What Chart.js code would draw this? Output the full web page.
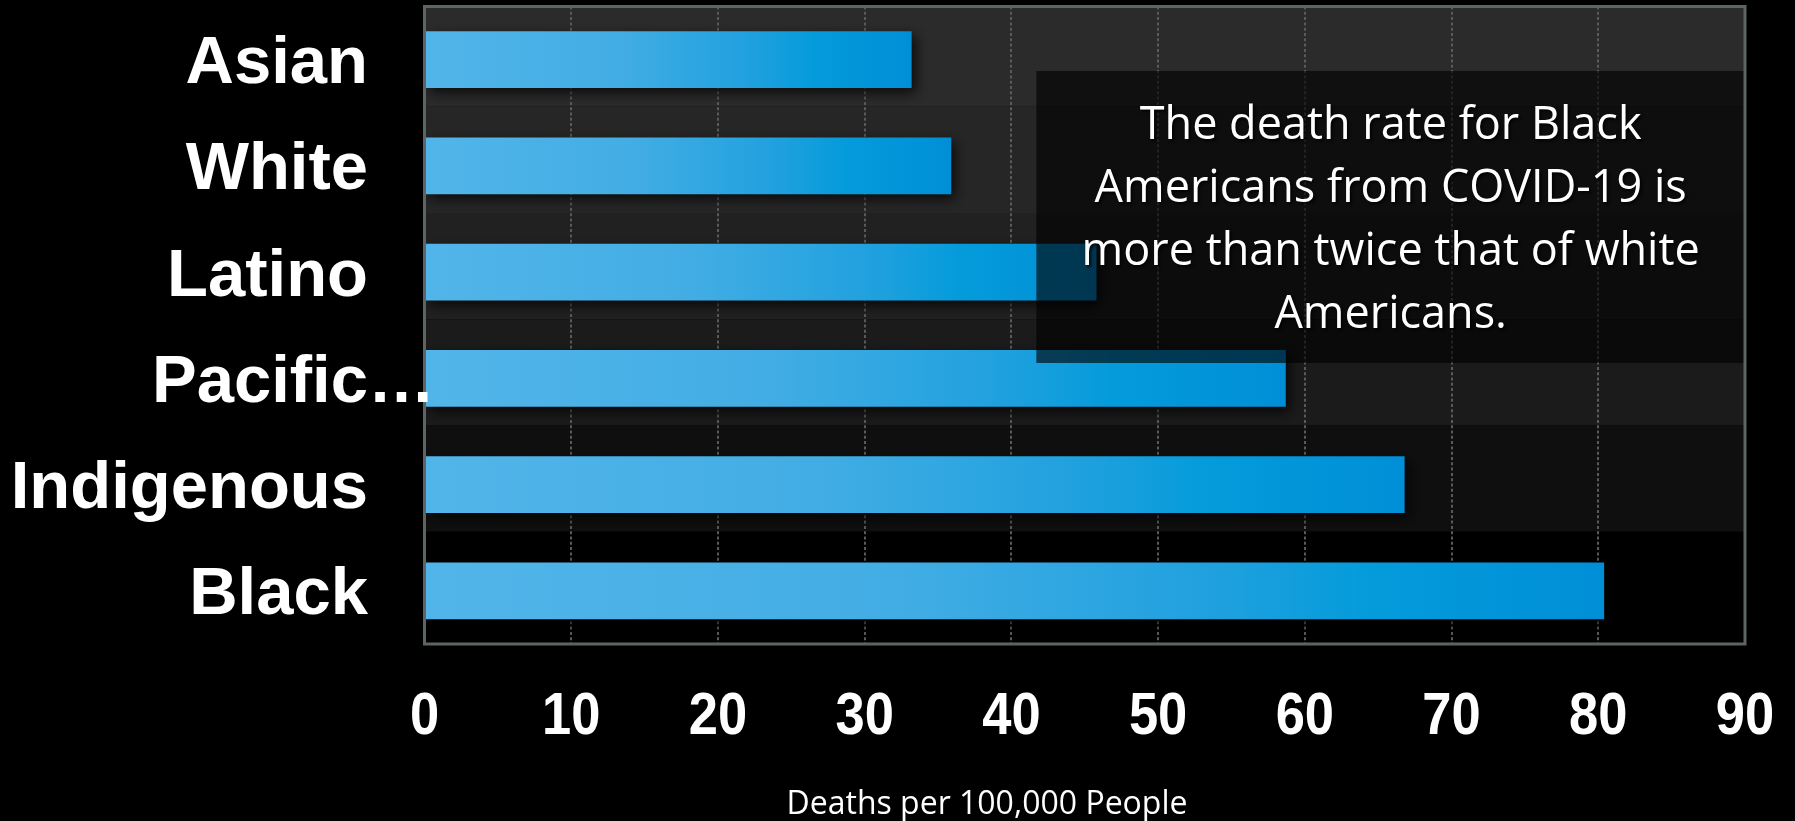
<!DOCTYPE html>
<html>
<head>
<meta charset="utf-8">
<script src="https://cdn.jsdelivr.net/npm/chart.js@4/dist/chart.umd.min.js"></script>
<style>
  html, body { margin: 0; padding: 0; background: #000; }
  #wrap { width: 1795px; height: 821px; }
</style>
</head>
<body>
<div id="wrap"><canvas id="c" width="1795" height="821"></canvas></div>
<script>
// ---- data ----
const categories = ["Asian", "White", "Latino", "Pacific…", "Indigenous", "Black"];
const deathRates = [33.2, 35.9, 45.8, 58.7, 66.8, 80.4];
const xTicks = [0, 10, 20, 30, 40, 50, 60, 70, 80, 90];
const xAxisTitle = "Deaths per 100,000 People";
const noteLines = ["The death rate for Black", "Americans from COVID-19 is", "more than twice that of white", "Americans."];

const bandColors = ['#2b2b2b', '#262626', '#212121', '#1b1b1b', '#0f0f0f', '#000000'];

function barGradient(ctx) {
  const chart = ctx.chart;
  if (!chart.chartArea || ctx.dataIndex === undefined) return '#0090d8';
  const xs = chart.scales.x;
  const x0 = xs.getPixelForValue(0);
  const x1 = xs.getPixelForValue(deathRates[ctx.dataIndex]);
  const g = chart.ctx.createLinearGradient(x0, 0, x1, 0);
  g.addColorStop(0, '#52b5e9');
  g.addColorStop(0.4, '#42ade4');
  g.addColorStop(0.68, '#1ea0de');
  g.addColorStop(0.8, '#049bdb');
  g.addColorStop(1, '#008fd6');
  return g;
}

const decor = {
  id: 'decor',
  beforeDraw(chart) {
    const { ctx, chartArea: a } = chart;
    const ys = chart.scales.y;
    ctx.save();
    ctx.fillStyle = '#000';
    ctx.fillRect(0, 0, chart.width, chart.height);
    const n = categories.length;
    for (let i = 0; i < n; i++) {
      const c = ys.getPixelForValue(i);
      const prev = i === 0 ? a.top : (ys.getPixelForValue(i - 1) + c) / 2 - 6;
      const next = i === n - 1 ? a.bottom : (ys.getPixelForValue(i + 1) + c) / 2 - 6;
      ctx.fillStyle = bandColors[i];
      ctx.fillRect(a.left, prev, a.right - a.left, next - prev);
    }
    ctx.restore();
  },
  beforeDatasetsDraw(chart) {
    const ctx = chart.ctx;
    ctx.save();
    ctx.shadowColor = 'rgba(0,0,0,0.75)';
    ctx.shadowBlur = 12;
    ctx.shadowOffsetX = 4;
    ctx.shadowOffsetY = 5;
  },
  afterDatasetsDraw(chart) {
    const { ctx, chartArea: a } = chart;
    const xs = chart.scales.x;
    ctx.restore();
    // annotation box
    ctx.save();
    const bx0 = xs.getPixelForValue(41.7), bx1 = a.right;
    const by0 = 71, by1 = 363;
    ctx.fillStyle = 'rgba(0,0,0,0.62)';
    ctx.fillRect(bx0, by0, bx1 - bx0, by1 - by0);
    ctx.font = '45px "Open Sans"';
    ctx.fillStyle = '#ffffff';
    ctx.textAlign = 'center';
    ctx.textBaseline = 'alphabetic';
    ctx.shadowColor = 'rgba(0,0,0,0.8)';
    ctx.shadowBlur = 3;
    ctx.shadowOffsetX = 2;
    ctx.shadowOffsetY = 2;
    const cx = (bx0 + bx1) / 2;
    noteLines.forEach((t, i) => ctx.fillText(t, cx, 139 + 63 * i));
    ctx.restore();
    // frame
    ctx.save();
    ctx.strokeStyle = '#5d6464';
    ctx.lineWidth = 3;
    ctx.strokeRect(a.left, a.top, a.right - a.left, a.bottom - a.top);
    ctx.restore();
  },
  afterDraw(chart) {
    const { ctx } = chart;
    const ys = chart.scales.y;
    const xs = chart.scales.x;
    ctx.save();
    ctx.fillStyle = '#ffffff';
    ctx.font = 'bold 67px "Liberation Sans", Arial, sans-serif';
    ctx.textBaseline = 'alphabetic';
    const rx = 368;
    categories.forEach((lab, i) => {
      const y = ys.getPixelForValue(i) + 23.5;
      if (lab.endsWith('…')) {
        const main = lab.slice(0, -1);
        ctx.textAlign = 'right';
        ctx.fillText(main, rx, y);
        ctx.textAlign = 'left';
        ctx.fillText('…', rx, y);
      } else {
        ctx.textAlign = 'right';
        ctx.fillText(lab, rx, y);
      }
    });
    // x tick labels (condensed bold)
    ctx.font = 'bold 59px "Liberation Sans", Arial, sans-serif';
    ctx.textAlign = 'center';
    xTicks.forEach(v => {
      const px = xs.getPixelForValue(v);
      ctx.save();
      ctx.translate(px, 733.5);
      ctx.scale(0.89, 1);
      ctx.fillText(String(v), 0, 0);
      ctx.restore();
    });
    // x axis title
    ctx.font = '32px "Open Sans"';
    ctx.textAlign = 'center';
    ctx.fillText(xAxisTitle, 987, 814);
    ctx.restore();
  }
};

new Chart(document.getElementById('c'), {
  type: 'bar',
  data: {
    labels: categories,
    datasets: [{
      data: deathRates,
      backgroundColor: barGradient,
      borderWidth: 0,
      barPercentage: 0.536,
      categoryPercentage: 1
    }]
  },
  options: {
    indexAxis: 'y',
    responsive: false,
    animation: false,
    devicePixelRatio: 1,
    layout: { padding: { top: 6.5, right: 50, left: 0, bottom: 0 } },
    plugins: { legend: { display: false }, tooltip: { enabled: false } },
    scales: {
      x: {
        type: 'linear',
        min: 0,
        max: 90,
        afterBuildTicks(s) { s.ticks = xTicks.map(v => ({ value: v })); },
        afterFit(s) { s.height = 177; s.paddingLeft = 0; s.paddingRight = 0; },
        ticks: { display: false },
        grid: { color: '#5a5a5a', lineWidth: 2, drawTicks: false },
        border: { display: false, dash: [3, 2.3] }
      },
      y: {
        type: 'category',
        afterFit(s) { s.width = 424.5; },
        ticks: { display: false },
        grid: { display: false },
        border: { display: false }
      }
    }
  },
  plugins: [decor]
});
</script>
</body>
</html>
